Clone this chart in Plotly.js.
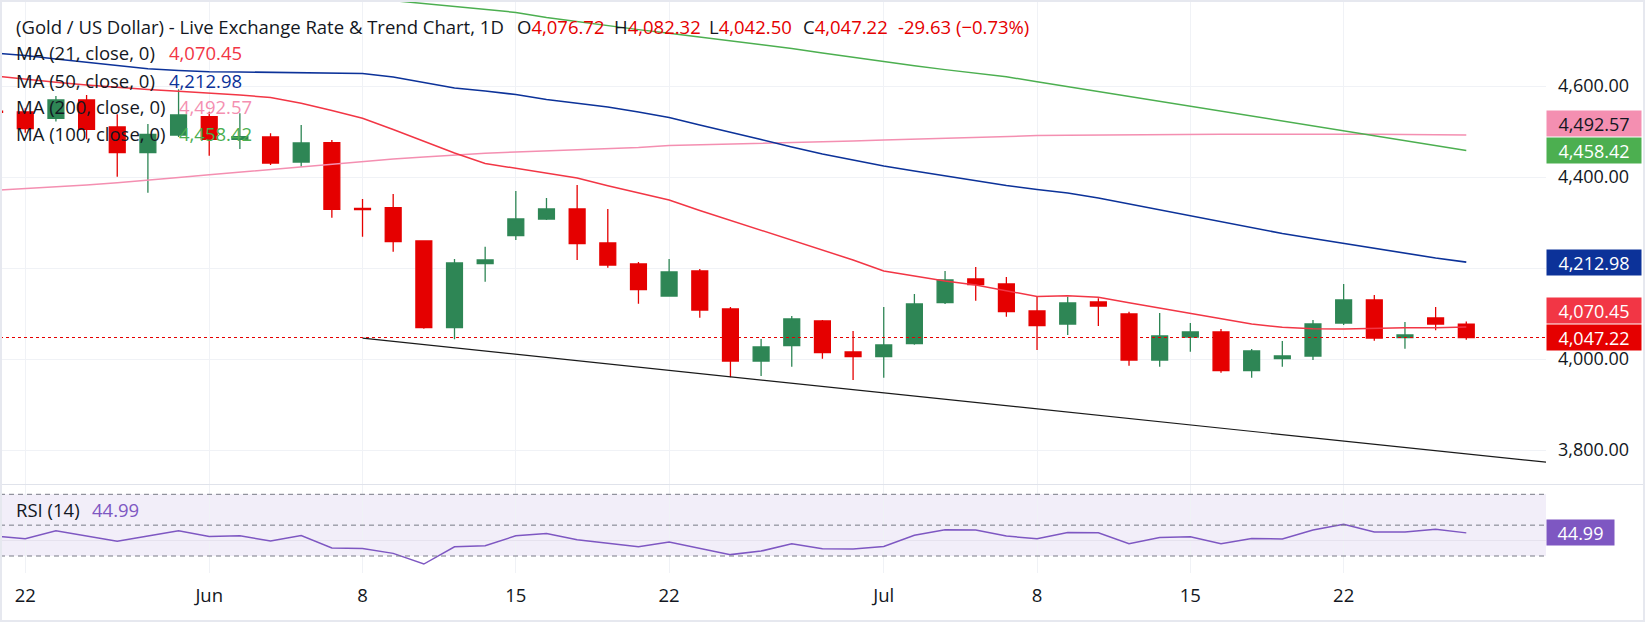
<!DOCTYPE html>
<html>
<head>
<meta charset="utf-8">
<script src="https://cdn.plot.ly/plotly-3.0.1.min.js"></script>
<style>
  html, body { margin: 0; padding: 0; background: #ffffff; }
  #wrap { position: relative; width: 1647px; height: 627px; overflow: hidden; }
  #chart { position: absolute; left: 0; top: 0; width: 1647px; height: 627px; }
  #frame { position: absolute; left: 0; top: 0; width: 1645px; height: 622px; box-sizing: border-box;
           border: 2px solid #e6e8ef; pointer-events: none; }
  #sep { position: absolute; left: 0; top: 484px; width: 1644px; height: 1px; background: #e0e3eb; pointer-events: none; }
</style>
</head>
<body>
<div id="wrap">
  <div id="chart"></div>
  <div id="sep"></div>
  <div id="frame"></div>
</div>
<script>
// ---------------- DATA ----------------
const dates = [
  "2026-05-21","2026-05-22","2026-05-25","2026-05-26","2026-05-27","2026-05-28","2026-05-29",
  "2026-06-01","2026-06-02","2026-06-03","2026-06-04","2026-06-05",
  "2026-06-08","2026-06-09","2026-06-10","2026-06-11","2026-06-12",
  "2026-06-15","2026-06-16","2026-06-17","2026-06-18","2026-06-19",
  "2026-06-22","2026-06-23","2026-06-24","2026-06-25","2026-06-26",
  "2026-06-29","2026-06-30","2026-07-01","2026-07-02","2026-07-03",
  "2026-07-06","2026-07-07","2026-07-08","2026-07-09","2026-07-10",
  "2026-07-13","2026-07-14","2026-07-15","2026-07-16","2026-07-17",
  "2026-07-20","2026-07-21","2026-07-22","2026-07-23","2026-07-24",
  "2026-07-27","2026-07-28"
];
const openP = [4544.5,4542.9,4529.0,4569.2,4509.9,4453.4,4492.3,4532.5,4482.9,4487.9,4433.0,4475.4,
  4330.8,4332.5,4259.3,4068.8,4209.5,4271.0,4307.7,4329.7,4254.9,4208.8,4138.5,4193.4,4109.9,
  3995.6,4029.2,4083.5,4015.4,4005.1,4033.6,4123.8,4175.8,4164.8,4105.5,4076.9,4125.3,4098.9,
  3997.8,4048.4,4059.3,3974.3,4000.7,4006.6,4079.1,4129.7,4046.9,4090.1,4076.72];
const highP = [4566.0,4551.0,4578.0,4580.2,4537.8,4516.5,4592.7,4543.5,4540.0,4496.0,4514.3,4481.3,
  4351.6,4362.6,4260.5,4219.8,4246.8,4369.2,4353.9,4382.4,4329.7,4213.2,4219.8,4197.8,4114.3,
  4043.9,4094.5,4085.7,4061.5,4114.3,4142.9,4193.4,4202.2,4180.2,4136.9,4136.9,4133.4,4104.0,
  4101.1,4079.1,4065.9,4021.9,4039.6,4085.7,4164.8,4140.7,4081.3,4114.3,4082.32];
const lowP = [4528.0,4497.0,4522.0,4482.9,4400.7,4365.5,4488.0,4446.8,4461.5,4426.4,4422.7,4310.6,
  4268.8,4235.8,4066.6,4043.3,4169.9,4261.5,4305.5,4217.6,4200.7,4121.5,4137.0,4090.8,3959.8,
  3962.6,3983.0,4000.7,3953.8,3958.9,4031.4,4121.0,4128.1,4093.0,4019.8,4052.7,4072.5,3985.0,
  3983.0,4016.0,3969.9,3958.9,3983.0,3997.8,4074.7,4040.0,4022.7,4063.0,4042.50];
const closeP = [4542.0,4506.2,4569.2,4504.8,4453.4,4493.8,4536.3,4482.9,4488.6,4430.8,4474.7,4329.0,
  4328.5,4257.8,4068.8,4211.0,4217.6,4307.7,4329.7,4253.4,4206.6,4152.3,4191.2,4107.7,3995.6,
  4026.4,4087.9,4013.9,4005.1,4030.8,4120.9,4173.6,4163.3,4104.0,4073.2,4123.1,4116.5,3997.8,
  4050.5,4059.3,3974.3,4017.6,4006.6,4076.9,4129.7,4046.2,4052.7,4076.85,4047.22];

const ma21 = [4622.0,4614.3,4608.1,4602.2,4596.7,4592.3,4588.4,4584.6,4580.2,4574.7,4562.0,4546.2,
  4529.0,4504.4,4479.1,4452.7,4429.7,4418.7,4408.6,4398.0,4380.9,4364.8,4349.4,4326.4,4304.4,
  4282.4,4261.5,4238.2,4217.6,4193.4,4182.4,4171.4,4162.6,4149.4,4137.4,4139.1,4135.6,4123.7,
  4112.1,4100.0,4087.9,4076.9,4069.7,4066.4,4065.9,4067.5,4068.8,4068.8,4070.45];
const ma50 = [4672.5,4667.0,4659.3,4651.6,4644.0,4637.8,4634.1,4631.4,4630.8,4630.1,4629.7,4629.2,
  4627.5,4619.8,4607.7,4595.6,4589.0,4581.3,4570.3,4562.6,4553.8,4542.9,4530.8,4514.3,4498.9,
  4482.4,4465.9,4450.5,4437.4,4424.2,4413.2,4402.2,4392.3,4381.3,4372.5,4364.8,4353.8,4340.7,
  4327.5,4314.3,4301.1,4287.9,4275.8,4264.8,4253.8,4242.9,4231.9,4222.0,4212.98];
const ma100 = [null,null,null,null,null,null,null,null,null,null,null,null,
  4794.1,4787.7,4781.3,4774.7,4768.1,4761.7,4750.5,4741.1,4732.1,4723.9,4716.0,4707.7,4699.8,
  4691.7,4682.2,4672.5,4662.9,4653.4,4644.6,4636.0,4627.7,4620.2,4609.5,4598.7,4587.9,4577.4,
  4566.6,4555.8,4545.1,4534.3,4523.7,4513.0,4502.2,4491.9,4480.9,4469.5,4458.42];
const ma200 = [4370.8,4374.3,4377.6,4382.4,4387.3,4392.5,4398.7,4404.8,4410.8,4416.3,4422.2,4428.1,
  4434.1,4439.8,4444.2,4448.4,4452.1,4454.9,4457.1,4459.3,4461.5,4464.8,4469.0,4470.5,4472.1,
  4473.6,4475.4,4476.9,4479.1,4481.3,4483.5,4485.7,4487.9,4490.1,4491.0,4491.6,4492.3,4492.7,
  4493.2,4493.6,4493.8,4494.0,4494.3,4494.3,4494.3,4494.0,4493.6,4493.2,4492.57];
const rsi14 = [43.0,41.2,46.3,42.9,39.5,42.9,46.3,42.7,43.1,39.7,43.3,35.2,34.9,31.7,24.8,36.0,
  36.7,43.1,44.6,40.5,38.4,36.0,39.0,34.9,30.9,33.2,37.9,34.7,34.5,36.2,43.5,47.0,46.8,42.9,
  41.2,45.3,45.0,37.9,42.0,42.5,37.9,41.4,41.0,46.8,50.6,45.5,45.5,47.4,44.99];

// trendline drawn on the chart (bar index, price)
const trendIndex = [12, 52];
const trendPrice = [4045.7, 3763.3];

const tickDates = ["2026-05-22","2026-06-01","2026-06-08","2026-06-15","2026-06-22","2026-07-01","2026-07-08","2026-07-15","2026-07-22"];
const tickLabels = ["22","Jun","8","15","22","Jul","8","15","22"];
const priceTicks = [3800, 4000, 4200, 4400, 4600];
const priceTickLabels = ["3,800.00", "4,000.00", "", "4,400.00", "4,600.00"]; // 4,200 hidden by MA50 label
const rsiLevels = [70, 50, 30];
const rsiGrid = [40];

const lastOHLC = {o: "4,076.72", h: "4,082.32", l: "4,042.50", c: "4,047.22", chg: "-29.63 (\u22120.73%)"};

// ---------------- BUILD ----------------
const idx = dates.map((d, i) => i);
const FONT = '"Open Sans", "Noto Sans", sans-serif';
const TXT = '#131722';
const UP = '#2e8655', DOWN = '#e50000';
const C21 = '#f23645', C50 = '#0c3299', C100 = '#4caf50', C200 = '#f48fb1', CRSI = '#7e57c2';
const FS = 18.5, AXFS = 18;

const W = 1647, H = 627;
const M = {l: 0, r: 101, t: 0, b: 54};
const PW = W - M.l - M.r, PH = H - M.t - M.b;
const SEP = 484.3;
const rsiTop = (PH - SEP) / PH;
const px = x => x / PW;
const py = y => (PH - y) / PH;

const traces = [
  {type: 'scatter', mode: 'lines', x: idx, y: ma200, line: {color: C200, width: 1.5}, xaxis: 'x', yaxis: 'y'},
  {type: 'scatter', mode: 'lines', x: idx, y: ma100, line: {color: C100, width: 1.5}, xaxis: 'x', yaxis: 'y', connectgaps: false},
  {type: 'scatter', mode: 'lines', x: idx, y: ma50, line: {color: C50, width: 1.6}, xaxis: 'x', yaxis: 'y'},
  {type: 'scatter', mode: 'lines', x: idx, y: ma21, line: {color: C21, width: 1.5}, xaxis: 'x', yaxis: 'y'},
  {type: 'scatter', mode: 'lines', x: trendIndex, y: trendPrice, line: {color: '#1a1a1a', width: 1.2}, xaxis: 'x', yaxis: 'y'},
  {type: 'candlestick', x: idx, open: openP, high: highP, low: lowP, close: closeP,
   increasing: {line: {color: UP, width: 1.3}, fillcolor: UP},
   decreasing: {line: {color: DOWN, width: 1.3}, fillcolor: DOWN},
   whiskerwidth: 0, xaxis: 'x', yaxis: 'y'},
  {type: 'scatter', mode: 'lines', x: idx, y: rsi14, line: {color: CRSI, width: 1.5}, xaxis: 'x', yaxis: 'y2'}
];

const lastClose = closeP[closeP.length - 1];
const shapes = [
  {type: 'rect', xref: 'paper', yref: 'y2', x0: 0, x1: 1, y0: rsiLevels[2], y1: rsiLevels[0],
   fillcolor: 'rgba(126,87,194,0.1)', line: {width: 0}, layer: 'below'},
  ...rsiLevels.map(v => ({type: 'line', xref: 'paper', yref: 'y2', x0: 0, x1: 1, y0: v, y1: v,
   line: {color: '#787b86', width: 1, dash: '5px,4px'}})),
  {type: 'line', xref: 'paper', yref: 'y', x0: 0, x1: 1, y0: lastClose, y1: lastClose,
   line: {color: DOWN, width: 1, dash: 'dot'}}
];

function txt(x, y, text, color, size, extra) {
  return Object.assign({xref: 'paper', yref: 'paper', x: px(x), y: py(y), xanchor: 'left', yanchor: 'middle',
    text: text, showarrow: false, font: {family: FONT, size: size || FS, color: color || TXT}}, extra || {});
}
const red = s => '<span style="color:' + DOWN + '">' + s + '</span>';
const fmt = v => v.toLocaleString('en-US', {minimumFractionDigits: 2, maximumFractionDigits: 2});

const annotations = [
  txt(14, 26, '(Gold / US Dollar) - Live Exchange Rate &amp; Trend Chart, 1D'),
  txt(514.7, 26, 'O' + red(lastOHLC.o)),
  txt(611.5, 26, 'H' + red(lastOHLC.h)),
  txt(707, 26, 'L' + red(lastOHLC.l)),
  txt(801, 26, 'C' + red(lastOHLC.c)),
  txt(896.3, 26, lastOHLC.chg, DOWN),
  txt(14, 52.7, 'MA (21, close, 0)'), txt(166.7, 52.7, fmt(ma21[48]), C21),
  txt(14, 80, 'MA (50, close, 0)'), txt(166.7, 80, fmt(ma50[48]), C50),
  txt(14, 106.7, 'MA (200, close, 0)'), txt(176.7, 106.7, fmt(ma200[48]), C200),
  txt(14, 133.3, 'MA (100, close, 0)'), txt(176.7, 133.3, fmt(ma100[48]), C100),
  txt(14, 510, 'RSI (14)'), txt(89.6, 510, rsi14[48].toFixed(2), CRSI)
];

function priceBox(val, bg, fg, shift, yaxis, width) {
  return {xref: 'paper', yref: yaxis || 'y', x: 1, y: val, xanchor: 'left', yanchor: 'middle', yshift: shift || 0,
    text: yaxis === 'y2' ? val.toFixed(2) : fmt(val),
    showarrow: false, bgcolor: bg, borderpad: 0, width: width || 94, height: 25, align: 'center',
    font: {family: FONT, size: AXFS, color: fg}};
}
annotations.push(
  priceBox(ma200[48], C200, '#131722', 11),
  priceBox(ma100[48], C100, '#ffffff', 0),
  priceBox(ma50[48], C50, '#ffffff', 0),
  priceBox(ma21[48], C21, '#ffffff', 16.3),
  priceBox(lastClose, DOWN, '#ffffff', 0),
  priceBox(rsi14[48], CRSI, '#ffffff', 0, 'y2', 67)
);

const yTop = 4600 + 86 / 0.455;
const yBot = 4600 - (SEP - 86) / 0.455;
const rsiPx = 1.543;
const r2Top = 70 + (494.3 - SEP) / rsiPx;
const r2Bot = 30 - (PH - 556) / rsiPx;

const layout = {
  width: W, height: H, margin: M, paper_bgcolor: '#ffffff', plot_bgcolor: '#ffffff',
  showlegend: false, boxgap: 0.26, dragmode: false,
  font: {family: FONT, color: TXT},
  xaxis: {type: 'linear', range: [5.4 / 30.66, (PW + 5.4) / 30.66], anchor: 'y2',
    tickvals: tickDates.map(d => dates.indexOf(d)), ticktext: tickLabels,
    showgrid: true, gridcolor: '#f0f2f6', gridwidth: 1, zeroline: false, showline: false, ticks: '',
    ticklabelstandoff: 9, tickfont: {family: FONT, size: FS, color: TXT}, rangeslider: {visible: false}, fixedrange: true},
  yaxis: {domain: [rsiTop, 1], range: [yBot, yTop], side: 'right', tickvals: priceTicks, ticktext: priceTickLabels,
    showgrid: true, gridcolor: '#f0f2f6', zeroline: false, showline: false, ticks: '',
    ticklabelstandoff: 11, tickfont: {family: FONT, size: AXFS, color: TXT}, fixedrange: true},
  yaxis2: {domain: [0, rsiTop], range: [r2Bot, r2Top], side: 'right', tickvals: rsiGrid, ticktext: [''],
    showgrid: true, gridcolor: '#e6e2ee', zeroline: false, showline: false, ticks: '',
    tickfont: {family: FONT, size: AXFS, color: TXT}, fixedrange: true},
  shapes: shapes,
  annotations: annotations
};

Plotly.newPlot('chart', traces, layout, {staticPlot: true, displayModeBar: false});
</script>
</body>
</html>
